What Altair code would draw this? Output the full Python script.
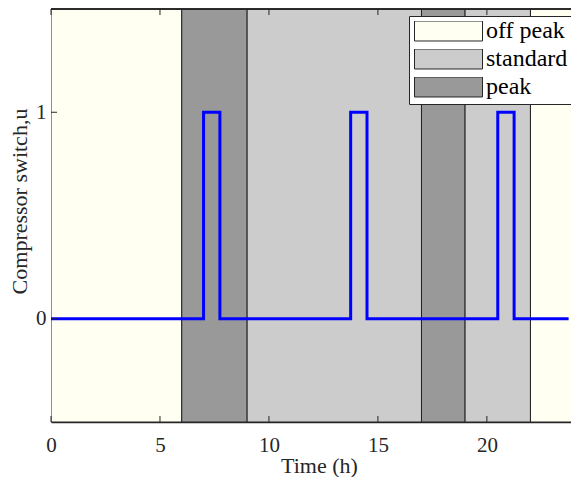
import altair as alt
import pandas as pd

# Tariff periods over one day (h)
PERIOD_START = [0, 6, 9, 17, 19, 22]
PERIOD_END = [6, 9, 17, 19, 22, 24]
PERIOD_NAME = ["off peak", "peak", "standard", "peak", "standard", "off peak"]

LEGEND_ORDER = ["off peak", "standard", "peak"]
LEGEND_COLORS = ["#FFFFF2", "#CCCCCC", "#999999"]

# Compressor switching instants (h) and the state held from each instant on
SWITCH_TIME = [0, 7, 7.75, 13.75, 14.5, 20.5, 21.25, 23.75]
SWITCH_STATE = [0, 1, 0, 1, 0, 1, 0, 0]

X_TICKS = [0, 5, 10, 15, 20]
Y_TICKS = [0, 1]
X_RANGE = [0, 23.86]
Y_RANGE = [-0.5, 1.5]

W, H = 520, 413
SERIF = "Liberation Serif"
AXIS_COLOR = "#262626"

periods = pd.DataFrame({"start": PERIOD_START, "end": PERIOD_END, "period": PERIOD_NAME})
switch = pd.DataFrame({"t": SWITCH_TIME, "u": SWITCH_STATE})
xt = pd.DataFrame({"x": X_TICKS})
yt = pd.DataFrame({"y": Y_TICKS})

x_scale = alt.Scale(domain=X_RANGE, nice=False, zero=False)
y_scale = alt.Scale(domain=Y_RANGE, nice=False, zero=False)

x_axis = alt.Axis(
    values=X_TICKS, format="d", ticks=False, grid=False, labelPadding=12,
    labelFlush=False, labelFont=SERIF, labelFontSize=21, labelColor=AXIS_COLOR,
    domainColor=AXIS_COLOR, domainWidth=1.5,
    title="Time (h)", titleFont=SERIF, titleFontSize=22, titleFontWeight="normal",
    titleColor=AXIS_COLOR, titlePadding=0, titleX=268,
)
y_axis = alt.Axis(
    values=Y_TICKS, format="d", ticks=False, grid=False, labelPadding=5,
    labelFlush=False, labelFont=SERIF, labelFontSize=21, labelColor=AXIS_COLOR,
    domainColor=AXIS_COLOR, domainWidth=1,
    title="Compressor switch,u", titleFont=SERIF, titleFontSize=22,
    titleFontWeight="normal", titleColor=AXIS_COLOR, titlePadding=4, titleY=192,
)

# wide rectangular swatch: 68 x 20 px
swatch = "M-1,-0.2941H1V0.2941H-1Z"

legend = alt.Legend(
    title=None, orient="none", legendX=358, legendY=7,
    symbolType=swatch, symbolSize=68 * 68, clipHeight=20, rowPadding=4,
    padding=5, labelOffset=3, labelFont=SERIF, labelFontSize=24, labelColor="black",
    labelLimit=300, fillColor="white", strokeColor=AXIS_COLOR,
    symbolStrokeColor=AXIS_COLOR, symbolStrokeWidth=1, symbolOpacity=1,
)

bands = alt.Chart(periods).mark_rect(clip=True, stroke="#222222", strokeWidth=1).encode(
    x=alt.X("start:Q", scale=x_scale, axis=x_axis),
    x2="end:Q",
    fill=alt.Fill("period:N", scale=alt.Scale(domain=LEGEND_ORDER, range=LEGEND_COLORS),
                  legend=legend),
)

line = alt.Chart(switch).mark_line(
    interpolate="step-after", color="#0000FF", strokeWidth=3, clip=True
).encode(
    x=alt.X("t:Q", scale=x_scale),
    y=alt.Y("u:Q", scale=y_scale, axis=y_axis),
)

# inward tick marks on the bottom, top and left frame edges
bottom_ticks = alt.Chart(xt).mark_rule(color=AXIS_COLOR, strokeWidth=1).encode(
    x=alt.X("x:Q", scale=x_scale), y=alt.value(H), y2=alt.value(H - 6)
)
top_ticks = alt.Chart(xt).mark_rule(color=AXIS_COLOR, strokeWidth=1).encode(
    x=alt.X("x:Q", scale=x_scale), y=alt.value(0), y2=alt.value(6)
)
left_ticks = alt.Chart(yt).mark_rule(color=AXIS_COLOR, strokeWidth=1).encode(
    y=alt.Y("y:Q", scale=y_scale), x=alt.value(0), x2=alt.value(6)
)
top_frame = alt.Chart(xt).mark_rule(color=AXIS_COLOR, strokeWidth=1).encode(
    x=alt.value(0), x2=alt.value(W), y=alt.value(0)
)

chart = (
    alt.layer(bands, line, bottom_ticks, top_ticks, left_ticks, top_frame)
    .properties(
        width=W, height=H,
        autosize=alt.AutoSizeParams(type="none"),
        padding={"left": 51, "top": 9, "right": 0, "bottom": 55},
        background="white",
    )
    .configure_view(stroke=None)
)

chart.save("out.html", embed_options={"renderer": "svg", "actions": False})
